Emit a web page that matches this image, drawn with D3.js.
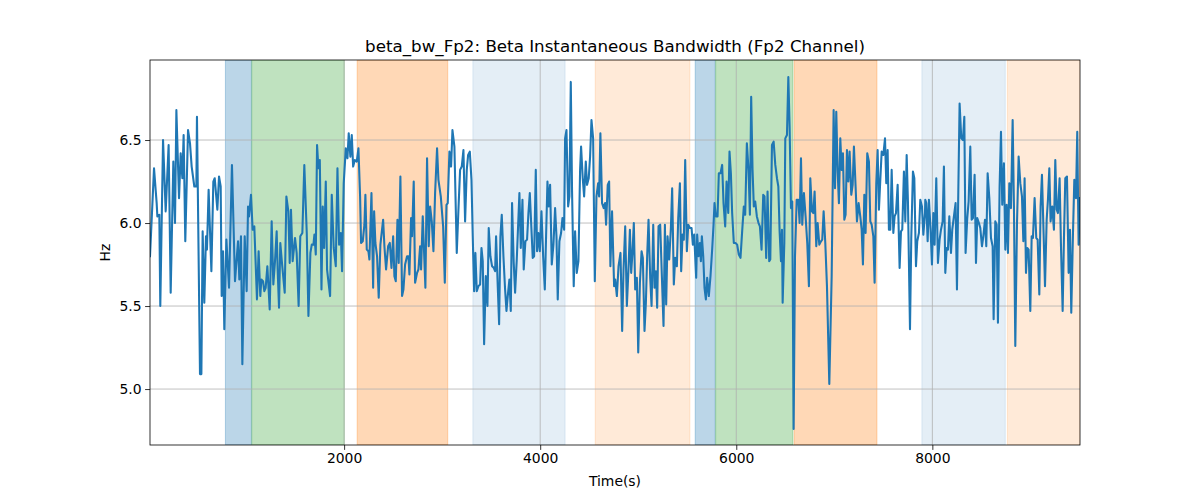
<!DOCTYPE html>
<html>
<head>
<meta charset="utf-8">
<script src="https://cdn.jsdelivr.net/npm/d3@7"></script>
<style>
  body { margin: 0; background: #fff; }
  svg { font-family: "DejaVu Sans", sans-serif; }
</style>
</head>
<body>
<svg id="chart" width="1200" height="500"></svg>
<script>
const times = [
20,61,88,95,115,125,153,180,210,231,258,275,289,316,333,350,363,380,408,428,
445,472,493,499,530,544,557,574,591,601,618,646,666,680,707,724,741,751,765,778,
799,826,856,887,918,931,948,962,986,1006,1020,1030,1050,1067,1084,1111,1128,1145,1156,1173,
1186,1200,1217,1241,1261,1278,1295,1312,1322,1336,1349,1366,1394,1411,1431,1445,1458,1475,1499,1516,
1536,1553,1574,1594,
1619,1636,1656,1670,1687,1697,1711,1724,1738,1752,1769,1782,1796,1813,1826,1857,1874,1894,1915,1932,
1949,1966,1979,1996,2017,2034,2047,2064,2078,2092,2109,2129,2146,2163,2173,2190,2207,2217,2231,2248,
2258,2279,2296,2306,2319,2336,2353,2370,2398,2411,2428,2449,2466,2483,2500,2513,2527,2544,2557,2574,
2591,2605,2622,2642,2656,2666,2683,2693,2710,2724,2744,2758,2775,2785,2802,2829,2846,2863,2877,2894,
2911,2928,2948,2962,2986,3010,3027,3044,3057,3074,3091,3105,3125,3149,3166,
3183,3200,3217,3234,3251,3265,3282,3299,3312,3326,3339,3353,3370,3387,3401,3414,3428,3445,3462,3475,
3492,3509,3526,3540,3550,3567,3581,3594,3608,3625,3642,3656,3669,3686,3700,3713,3730,3744,3761,3788,
3802,3819,3832,3849,3866,3880,3894,3907,3924,3938,3955,3968,3982,3996,4013,4030,4047,4060,4074,4087,
4101,4118,4135,4152,4166,4179,4196,4213,4227,4244,4254,4268,4285,4298,4312,4325,4342,4356,4373,4390,
4407,4417,4434,4448,4465,4478,4495,4509,4523,4540,4557,4574,4591,4601,4614,4631,4648,4662,4672,4689,
4703,4716,4733,4754,
4765,4782,4799,4819,4836,4850,4867,4884,4901,4915,4928,4942,4955,4969,4986,5000,5017,5034,5047,5064,
5078,5091,5105,5122,5136,5153,5166,5180,5193,5207,5224,5241,5258,5272,5285,5299,5316,5333,5346,5363,
5377,5394,5408,5425,5438,5452,5465,5479,5496,5510,5527,5544,5557,5571,5581,5591,5601,5615,5629,5639,
5649,5663,5676,5690,5703,5720,5737,5754,5768,5778,5792,5809,5822,5839,5856,5870,5887,5901,5918,5931,
5945,5958,5975,5992,6009,6026,6043,6060,6077,6091,6108,6125,6139,6152,6166,6179,6193,6210,6227,6241,
6258,6275,6288,6305,6319,6336,
6347,6364,6381,6398,6415,6429,6442,6456,6466,6473,6490,6500,6517,6531,6544,6558,6571,6585,6599,6616,
6633,6646,6660,6673,6690,6707,6724,6741,6755,6772,6786,6799,6816,6830,6847,6864,6877,6891,6908,6925,
6949,6973,6993,7007,7020,7034,7047,7061,7075,7088,7102,7115,7129,7143,7156,7173,7187,7200,7217,7231,
7248,7265,7279,7292,7306,7319,7336,7353,7367,7381,7398,7411,7428,7442,7455,7469,7483,7500,7517,7530,
7544,7557,7571,7585,7602,7615,7629,7646,7666,7680,7693,7710,7724,7738,7751,7772,7785,7802,7816,7833,
7846,7863,7877,7894,7908,7925,
7928,7938,7952,7965,7982,7996,8010,8023,8040,8057,8074,8088,8105,8118,8132,8146,8159,8173,8190,8203,
8220,8237,8251,8265,8278,8295,8312,8326,8339,8356,8370,8387,8401,8414,8431,8445,8458,8475,8489,8506,
8520,8537,8550,8564,8581,8598,8615,8625,8642,8656,8669,8686,8700,8713,8730,8744,8758,8771,8785,8802,
8819,8832,8846,8863,8880,8897,8914,8928,8941,8955,8968,8982,8999,9013,9026,9043,9060,9074,9091,9104,
9118,9135,9149,9166,9179,9193,9206,9223,9240,9254,9268,9281,9298,9312,9329,9342,9356,9373,9390,9404,
9417,9434,9448,9465,9478,9492,9506
];

const values = [
5.80,6.33,6.12,6.04,6.05,5.50,6.50,6.07,6.47,5.58,6.37,6.00,6.68,6.15,6.42,6.27,6.53,5.89,6.56,6.48,
6.34,6.22,6.22,6.64,5.09,5.09,5.95,5.52,5.92,5.84,6.20,5.71,6.25,6.27,6.08,6.28,6.22,5.56,5.83,5.36,
5.90,5.61,6.35,5.65,5.89,5.66,5.92,5.15,5.92,5.59,6.10,6.04,6.17,5.96,5.98,5.54,5.83,5.56,5.66,5.65,
5.59,5.61,5.74,5.48,6.01,5.63,5.77,5.95,5.72,5.49,5.88,5.76,5.58,6.16,6.07,5.76,6.08,5.77,5.91,5.82,
5.50,5.92,5.94,6.35,
5.94,5.44,5.82,5.87,5.87,5.93,5.81,6.47,6.33,6.38,5.60,6.10,5.85,6.25,5.72,5.56,6.17,5.85,5.74,6.33,
5.87,5.94,5.71,6.24,6.45,6.39,6.54,6.40,6.53,6.34,6.38,6.37,6.45,6.16,5.88,5.89,5.99,6.17,5.84,5.83,
5.78,6.18,5.61,6.07,5.88,5.80,5.55,5.87,6.02,5.86,5.72,5.86,5.88,5.73,5.92,5.68,5.65,6.02,5.76,6.28,
5.56,5.60,5.75,5.80,5.80,5.69,6.03,5.92,6.25,5.64,5.70,5.72,5.86,5.72,6.04,5.61,6.39,5.86,6.10,6.01,
5.83,6.18,6.45,6.26,6.16,5.98,5.64,6.11,6.12,6.43,6.34,6.56,6.46,5.82,6.08,
6.32,6.34,6.44,6.01,6.32,6.41,6.43,6.26,5.92,5.59,5.82,5.59,5.62,5.63,5.85,5.77,5.27,5.68,5.50,5.97,
5.80,5.74,5.73,5.71,5.92,5.62,5.39,5.92,6.05,5.80,5.60,5.47,5.56,5.66,5.47,6.12,5.76,5.58,5.78,6.18,
5.85,6.14,5.72,5.89,5.90,6.06,6.18,6.01,5.79,5.80,6.32,5.83,5.94,5.83,6.07,5.80,5.60,5.92,6.25,6.10,
6.23,5.75,5.87,6.09,5.92,5.54,5.89,5.94,6.03,5.96,6.51,6.56,6.10,6.16,6.85,6.19,5.62,5.95,5.70,5.77,
6.32,6.46,6.27,6.16,6.37,6.23,6.27,6.40,6.62,6.51,5.65,6.16,6.24,6.16,6.54,6.12,6.09,6.12,5.99,6.23,
6.25,5.74,6.07,5.62,
5.66,5.56,5.74,5.82,5.35,5.72,5.98,5.50,5.73,5.96,5.70,5.83,6.00,5.60,5.67,5.22,5.64,5.83,5.79,5.35,
5.52,5.80,6.02,5.67,5.50,5.99,5.61,5.71,5.49,5.98,5.99,5.68,5.38,5.99,5.51,5.92,5.78,5.97,6.21,5.63,
5.79,5.74,6.03,6.24,5.71,5.93,5.90,6.38,5.83,5.99,5.97,5.97,5.87,5.93,5.80,5.67,5.93,5.80,5.88,5.77,
5.92,5.80,5.61,5.54,5.67,5.56,5.68,5.84,5.99,6.12,6.04,6.04,6.30,6.30,6.35,6.12,5.98,6.25,6.06,6.43,
6.30,6.06,5.88,5.88,5.87,5.81,5.79,5.95,6.10,6.05,6.48,6.32,6.05,6.76,6.32,6.10,6.13,6.04,6.00,5.98,
5.84,6.17,6.16,5.79,6.19,5.77,
5.78,6.47,6.49,6.35,6.27,6.22,5.95,5.77,5.96,5.52,5.88,6.51,6.53,6.88,6.58,6.09,6.13,4.76,5.80,6.14,
6.14,6.00,6.39,5.99,6.18,6.04,5.88,5.62,6.27,6.07,6.06,6.19,5.86,6.00,5.87,5.89,5.90,6.07,5.88,5.62,
5.03,5.68,6.68,6.21,6.67,6.31,6.12,6.51,6.32,6.42,6.02,6.05,6.44,6.25,6.43,6.17,6.23,6.46,6.22,6.01,
6.12,6.04,5.96,5.75,6.17,5.94,6.42,6.37,6.01,5.99,5.92,5.64,6.24,6.44,6.08,6.26,6.43,6.41,6.51,6.24,
6.44,5.96,5.96,6.32,5.94,6.04,6.06,6.23,5.73,5.95,5.96,6.31,6.01,6.41,6.13,5.36,5.91,6.31,6.27,5.74,
5.89,5.94,6.14,6.10,5.93,6.06,
6.14,6.12,5.89,6.14,5.96,5.75,6.06,5.87,6.27,5.76,5.90,5.96,6.01,6.34,5.70,5.85,5.84,6.04,5.82,5.96,
6.04,6.12,5.60,6.20,6.72,6.51,6.50,6.64,5.82,6.03,6.13,6.46,6.02,6.03,6.29,5.76,6.03,6.00,5.97,5.86,
5.92,6.02,5.86,6.30,6.15,5.91,5.86,5.42,6.01,5.99,5.40,6.22,6.55,6.11,6.36,5.84,6.11,5.82,6.24,6.09,
6.62,6.11,5.26,5.99,6.40,6.24,6.16,5.89,6.27,5.70,5.85,5.84,5.47,5.92,5.91,6.15,5.91,5.90,5.57,6.10,
6.29,5.93,5.62,6.02,6.14,6.33,6.01,6.10,5.96,6.38,6.08,6.06,6.27,5.86,5.47,5.90,6.27,6.28,5.70,5.96,
5.46,5.93,6.26,6.15,6.55,5.87,6.15
];

// Shaded intervals (time start, time end, category)
const bandStarts = [789, 1058, 2133, 3313, 4561, 5581, 5790, 6591, 7893, 8765];
const bandEnds   = [1054, 2002, 3057, 4254, 5527, 5785, 6578, 7435, 8744, 9506];
const bandKinds  = ["blue", "green", "orange", "lightblue", "lightorange", "blue", "green", "orange", "lightblue", "lightorange"];

const xTicks = [2000, 4000, 6000, 8000];
const yTicks = [5.0, 5.5, 6.0, 6.5];

const titleText = "beta_bw_Fp2: Beta Instantaneous Bandwidth (Fp2 Channel)";
const xLabel = "Time(s)";
const yLabel = "Hz";

const bandStyle = {
  blue:        { color: "#1f77b4", alpha: 0.3 },
  green:       { color: "#2ca02c", alpha: 0.3 },
  orange:      { color: "#ff7f0e", alpha: 0.3 },
  lightblue:   { color: "#1f77b4", alpha: 0.12 },
  lightorange: { color: "#ff7f0e", alpha: 0.16 }
};

const W = 1200, H = 500;
const m = { left: 150, right: 1080, top: 60, bottom: 445 };

const svg = d3.select("#chart");
const x = d3.scaleLinear().domain([d3.min(times), d3.max(times)]).range([m.left, m.right]);
const y = d3.scaleLinear().domain([4.663, 6.982]).range([m.bottom, m.top]);

svg.append("defs").append("clipPath").attr("id", "clip")
  .append("rect").attr("x", m.left).attr("y", m.top)
  .attr("width", m.right - m.left).attr("height", m.bottom - m.top);

const bands = bandStarts.map((s, i) => ({ s, e: bandEnds[i], k: bandKinds[i] }));

const gBands = svg.append("g").attr("clip-path", "url(#clip)");
gBands.selectAll("rect.band").data(bands).enter().append("rect")
  .attr("class", "band")
  .attr("x", d => x(d.s))
  .attr("width", d => x(d.e) - x(d.s))
  .attr("y", m.top)
  .attr("height", m.bottom - m.top)
  .attr("fill", d => bandStyle[d.k].color)
  .attr("fill-opacity", d => bandStyle[d.k].alpha)
  .attr("stroke", d => bandStyle[d.k].color)
  .attr("stroke-opacity", d => bandStyle[d.k].alpha)
  .attr("stroke-width", 1);

// grid
const grid = svg.append("g");
grid.selectAll("line.gx").data(xTicks).enter().append("line")
  .attr("x1", d => x(d)).attr("x2", d => x(d))
  .attr("y1", m.top).attr("y2", m.bottom)
  .attr("stroke", "#b0b0b0").attr("stroke-width", 0.8);
grid.selectAll("line.gy").data(yTicks).enter().append("line")
  .attr("y1", d => y(d)).attr("y2", d => y(d))
  .attr("x1", m.left).attr("x2", m.right)
  .attr("stroke", "#b0b0b0").attr("stroke-width", 0.8);

// line
const pts = times.map((t, i) => [t, values[i]]);
svg.append("g").attr("clip-path", "url(#clip)").append("path")
  .datum(pts)
  .attr("fill", "none")
  .attr("stroke", "#1f77b4")
  .attr("stroke-width", 2.08)
  .attr("stroke-linejoin", "round")
  .attr("stroke-linecap", "square")
  .attr("d", d3.line().x(d => x(d[0])).y(d => y(d[1])));

// axes
const xAxis = d3.axisBottom(x).tickValues(xTicks).tickSize(4.9).tickPadding(3.5).tickFormat(d3.format("d"));
const yAxis = d3.axisLeft(y).tickValues(yTicks).tickSize(4.9).tickPadding(3.5).tickFormat(d3.format(".1f"));

const gx = svg.append("g").attr("transform", `translate(0,${m.bottom})`).call(xAxis);
const gy = svg.append("g").attr("transform", `translate(${m.left},0)`).call(yAxis);
[gx, gy].forEach(g => {
  g.select(".domain").remove();
  g.selectAll(".tick line").attr("stroke", "#000").attr("stroke-width", 0.8);
  g.selectAll(".tick text").attr("fill", "#000").style("font-size", "13.9px").style("font-family", "DejaVu Sans");
});

// frame
svg.append("rect")
  .attr("x", m.left).attr("y", m.top)
  .attr("width", m.right - m.left).attr("height", m.bottom - m.top)
  .attr("fill", "none").attr("stroke", "#000").attr("stroke-width", 0.8);

// title & labels
svg.append("text")
  .attr("x", (m.left + m.right) / 2).attr("y", 52)
  .attr("text-anchor", "middle")
  .style("font-size", "16.7px")
  .text(titleText);

svg.append("text")
  .attr("x", (m.left + m.right) / 2).attr("y", 486)
  .attr("text-anchor", "middle")
  .style("font-size", "13.9px")
  .text(xLabel);

svg.append("text")
  .attr("transform", `translate(110,${(m.top + m.bottom) / 2}) rotate(-90)`)
  .attr("text-anchor", "middle")
  .style("font-size", "13.9px")
  .text(yLabel);
</script>
</body>
</html>
